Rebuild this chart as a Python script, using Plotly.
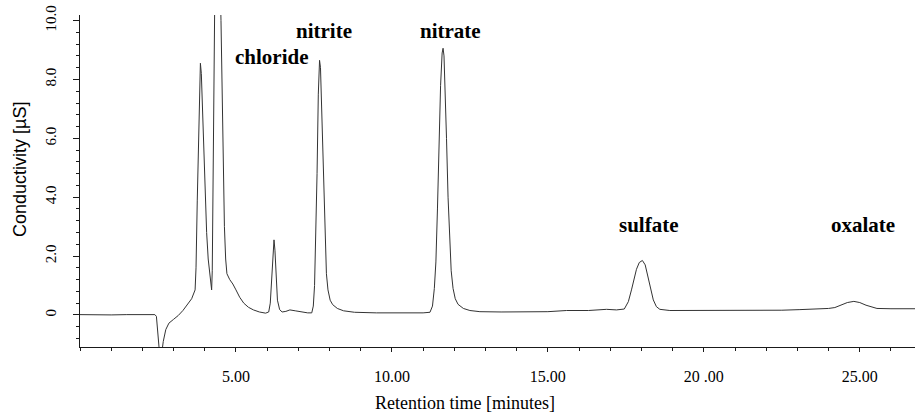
import plotly.graph_objects as go

# Retention time [min] and conductivity [µS]
time_min = [
    0.00, 0.50, 1.00, 1.50, 2.00, 2.40, 2.45, 2.50, 2.55, 2.62, 2.67, 2.75, 2.85,
    3.00, 3.15, 3.30, 3.45, 3.58, 3.69, 3.72, 3.76, 3.80, 3.84, 3.86, 3.89, 3.95,
    4.00, 4.06, 4.11, 4.17, 4.22, 4.24, 4.27, 4.30, 4.34, 4.40, 4.46, 4.52, 4.56,
    4.59, 4.63, 4.67, 4.71, 4.80, 4.90, 5.00, 5.12, 5.25, 5.40, 5.56, 5.75, 5.95,
    6.05, 6.10, 6.15, 6.19, 6.22, 6.25, 6.29, 6.33, 6.40, 6.48, 6.60, 6.73, 6.90,
    7.10, 7.30, 7.43, 7.48, 7.52, 7.56, 7.60, 7.64, 7.68, 7.71, 7.74, 7.78, 7.82,
    7.86, 7.90, 7.95, 8.02, 8.10, 8.25, 8.45, 8.80, 9.50, 10.50, 11.00, 11.22,
    11.30, 11.36, 11.41, 11.46, 11.51, 11.56, 11.61, 11.64, 11.67, 11.71, 11.75,
    11.80, 11.85, 11.90, 11.96, 12.03, 12.12, 12.29, 12.50, 12.82, 13.50, 14.50,
    15.00, 15.60, 16.30, 16.88, 17.20, 17.45, 17.58, 17.68, 17.76, 17.84, 17.93,
    18.03, 18.12, 18.21, 18.30, 18.38, 18.48, 18.59, 18.91, 19.50, 20.50, 21.50,
    22.50, 23.08, 23.60, 24.00, 24.20, 24.40, 24.60, 24.81, 25.00, 25.20, 25.40,
    25.55, 26.00, 26.77,
]
conductivity_uS = [
    0.01, 0.00, 0.00, 0.01, 0.01, 0.01, -0.05, -0.60, -1.30, -1.30, -0.90, -0.50, -0.28,
    -0.15, -0.02, 0.15, 0.35, 0.55, 0.85, 1.60, 3.90, 6.30, 8.30, 8.55, 8.20, 6.20,
    4.30, 2.80, 1.90, 1.20, 0.85, 1.50, 5.00, 10.20, 13.00, 14.00, 13.00, 10.00, 7.00,
    5.00, 3.00, 1.90, 1.40, 1.20, 1.05, 0.85, 0.60, 0.40, 0.26, 0.17, 0.10, 0.06,
    0.10, 0.40, 1.20, 2.20, 2.55, 2.20, 1.20, 0.50, 0.18, 0.10, 0.12, 0.17, 0.14,
    0.10, 0.07, 0.07, 0.30, 1.00, 2.50, 4.80, 7.50, 8.65, 8.40, 7.20, 5.60, 3.80,
    2.30, 1.40, 0.85, 0.50, 0.35, 0.22, 0.14, 0.09, 0.07, 0.06, 0.07, 0.09,
    0.30, 0.90, 1.80, 3.60, 5.80, 7.80, 8.90, 9.06, 8.80, 7.60, 6.00,
    4.00, 2.50, 1.50, 0.90, 0.55, 0.36, 0.22, 0.15, 0.11, 0.10, 0.10,
    0.11, 0.15, 0.15, 0.19, 0.17, 0.20, 0.45, 0.85, 1.25, 1.55, 1.78,
    1.85, 1.70, 1.30, 0.85, 0.51, 0.28, 0.19, 0.15, 0.15, 0.15, 0.16,
    0.16, 0.18, 0.20, 0.22, 0.25, 0.33, 0.42, 0.46, 0.42, 0.33, 0.26,
    0.22, 0.21, 0.21,
]

# Peak labels
peak_names = ["chloride", "nitrite", "nitrate", "sulfate", "oxalate"]
label_x = [6.14, 7.82, 11.89, 18.24, 25.10]
label_y = [8.77, 9.63, 9.63, 3.06, 3.06]

# Axis ticks
x_tick_vals = [5, 10, 15, 20, 25]
x_tick_text = ["5.00", "10.00", "15.00", "20 .00", "25.00"]
y_tick_vals = [0, 2, 4, 6, 8, 10]
y_tick_text = ["0", "2.0", "4.0", "6.0", "8.0", "10.0"]

X_RANGE = [0, 26.77]
Y_RANGE = [-1.09, 10.19]
SERIF = "Liberation Serif, Times New Roman, serif"
SANS = "Liberation Sans, Arial, sans-serif"
INK = "#1a1a1a"

FIG_W, FIG_H = 915, 417
M_L, M_R, M_T, M_B = 80, 0, 15, 70
PLOT_W = FIG_W - M_L - M_R
PLOT_H = FIG_H - M_T - M_B

fig = go.Figure()
fig.add_trace(go.Scatter(
    x=time_min, y=conductivity_uS, mode="lines",
    line=dict(color="#333333", width=1), hoverinfo="skip", showlegend=False,
))

common_x = dict(range=X_RANGE, showgrid=False, zeroline=False,
                showline=True, linecolor=INK, linewidth=1,
                tickvals=x_tick_vals, ticktext=x_tick_text, tickcolor=INK)
fig.update_layout(
    width=FIG_W, height=FIG_H,
    margin=dict(l=M_L, r=M_R, t=M_T, b=M_B, autoexpand=False),
    paper_bgcolor="white", plot_bgcolor="white",
    showlegend=False,
    xaxis=dict(**common_x, ticks="outside", ticklen=4, tickwidth=1,
               tickfont=dict(family=SERIF, size=16, color="black"),
               ticklabelstandoff=11, ticklabeloverflow="allow",
               minor=dict(dtick=1, tick0=0, ticks="outside", ticklen=3,
                          tickcolor=INK, tickwidth=1)),
    xaxis2=dict(**common_x, overlaying="x", anchor="y", side="bottom",
                ticks="inside", ticklen=4, tickwidth=1, showticklabels=False,
                minor=dict(dtick=1, tick0=0, ticks="inside", ticklen=3,
                           tickcolor=INK, tickwidth=1)),
    yaxis=dict(range=Y_RANGE, showgrid=False, zeroline=False,
               showline=True, linecolor=INK, linewidth=1,
               tickvals=y_tick_vals, ticktext=y_tick_text,
               ticks="outside", ticklen=6, tickwidth=1, tickcolor=INK,
               tickangle=-90, ticklabelstandoff=11, ticklabeloverflow="allow",
               tickfont=dict(family=SERIF, size=15, color="black"),
               minor=dict(dtick=0.4, tick0=0, ticks="outside", ticklen=3,
                          tickcolor=INK, tickwidth=1)),
    yaxis2=dict(range=Y_RANGE, overlaying="y", anchor="x", side="left",
                showgrid=False, zeroline=False, showline=True,
                linecolor=INK, linewidth=1,
                tickvals=y_tick_vals, ticks="inside", ticklen=6, tickwidth=1,
                tickcolor=INK, showticklabels=False,
                minor=dict(dtick=0.4, tick0=0, ticks="inside", ticklen=3,
                           tickcolor=INK, tickwidth=1)),
)

for name, lx, ly in zip(peak_names, label_x, label_y):
    fig.add_annotation(x=lx, y=ly, xref="x", yref="y", text="<b>" + name + "</b>",
                       showarrow=False, xanchor="center", yanchor="middle",
                       font=dict(family=SERIF, size=21, color="black"))

# axis titles, placed in plot-relative (paper) units
fig.add_annotation(x=(464.5 - 80) / PLOT_W, y=(347 - 403) / PLOT_H, xref="paper", yref="paper",
                   text="Retention time [minutes]", showarrow=False,
                   xanchor="center", yanchor="middle",
                   font=dict(family=SERIF, size=18, color="black"))
fig.add_annotation(x=(20 - 80) / PLOT_W, y=(347 - 170) / PLOT_H, xref="paper", yref="paper",
                   text="Conductivity [µS]", showarrow=False, textangle=-90,
                   xanchor="center", yanchor="middle",
                   font=dict(family=SANS, size=18, color="black"))

# remove the default page margin so the figure fills the window exactly
fig.write_html("out.html",
               config={"displayModeBar": False},
               post_script="document.body.style.margin='0';document.body.style.overflow='hidden';")
